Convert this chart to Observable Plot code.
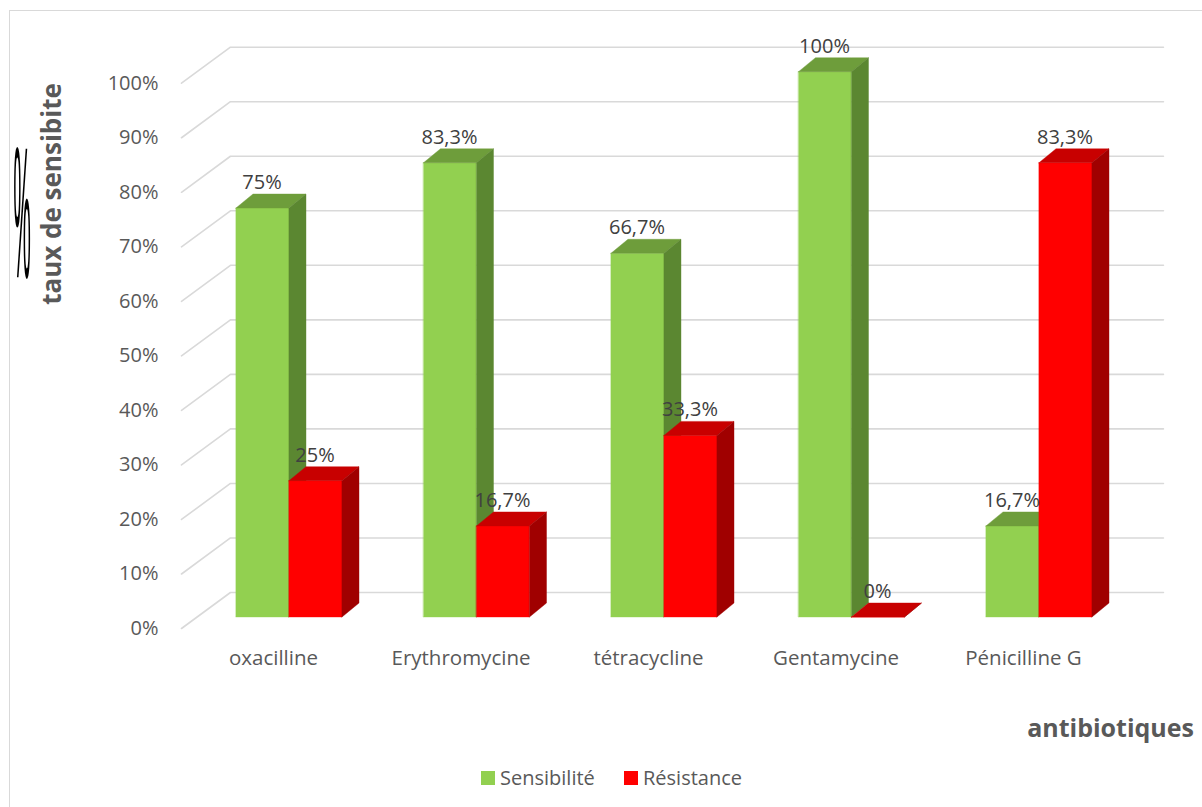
<!DOCTYPE html>
<html>
<head>
<meta charset="utf-8">
<script src="https://cdn.jsdelivr.net/npm/d3@7"></script>
<script src="https://cdn.jsdelivr.net/npm/@observablehq/plot@0.6"></script>
<style>
  html, body { margin: 0; padding: 0; background: #fff; overflow: hidden; }
  #wrap { position: relative; width: 1202px; height: 807px; overflow: hidden; font-family: "Open Sans", sans-serif; }
  #frame { position: absolute; left: 9px; top: 10px; width: 1400px; height: 1000px; border: 1.5px solid #d9d9d9; box-sizing: border-box; }
  #chart { position: absolute; left: 0; top: 0; }
  .abs { position: absolute; white-space: nowrap; color: #595959; }
  #ytitle { left: 51px; top: 194px; transform: translate(-50%, -50%) rotate(-90deg); font-weight: 700; font-size: 26px; line-height: 1; }
  #pct { left: 22px; top: 203px; transform: translate(-50%, -50%) scale(1, 8.2); font-size: 22px; line-height: 1; color: #000; font-family: "Open Sans", sans-serif; font-weight: 400; }
  #xtitle { right: 8px; top: 727px; transform: translateY(-50%); font-weight: 700; font-size: 25px; line-height: 1; }
  .leg { top: 778px; transform: translateY(-50%); font-size: 20px; line-height: 1; display: flex; align-items: center; }
  .sw { width: 14px; height: 14px; margin-right: 5px; display: inline-block; }
</style>
</head>
<body>
<div id="wrap">
  <div id="frame"></div>
  <div id="chart"></div>
  <div class="abs" id="pct">%</div>
  <div class="abs" id="ytitle">taux de sensibite</div>
  <div class="abs" id="xtitle">antibiotiques</div>
  <div class="abs leg" id="leg0" style="left:481px"></div>
  <div class="abs leg" id="leg1" style="left:624px"></div>
</div>
<script>
// ---- data ----
const antibiotics = ["oxacilline", "Erythromycine", "tétracycline", "Gentamycine", "Pénicilline G"];
const sensibilite = [75, 83.3, 66.7, 100, 16.7];
const resistance  = [25, 16.7, 33.3, 0, 83.3];
const seriesNames = ["Sensibilité", "Résistance"];
const yTicks = [0, 10, 20, 30, 40, 50, 60, 70, 80, 90, 100];

// ---- styling / projection constants ----
const frontColors = ["#92D050", "#FF0000"];
const topColors   = ["#6E9D3B", "#C80000"];
const sideColors  = ["#5B8731", "#A00000"];
const BAR_W = 0.2827;     // bar width in category units
const DX = 0.0907;        // bar depth (x units)
const DY = 2.57;          // bar depth (y units)
const WALL_FRONT_X = -0.576, WALL_BACK_X = -0.315, WALL_RIGHT_X = 4.661;
const WALL_FRONT_DY = -2.02, WALL_BACK_DY = 4.585;

const seriesValues = [sensibilite, resistance];
const fmt = v => String(v).replace(".", ",") + "%";

// bars table
const bars = [];
antibiotics.forEach((a, i) => {
  seriesValues.forEach((vals, s) => {
    const l = i + (s === 0 ? -BAR_W : 0);
    bars.push({antibiotic: a, i, s, value: vals[i], l, r: l + BAR_W});
  });
});

// faces (front, top, side) in drawing order per bar
const faces = [];
bars.forEach((b, k) => {
  const v = b.value;
  const push = (face, color, pts) => pts.forEach(p => faces.push({id: k + "-" + face, color, ...p}));
  push("front", frontColors[b.s], [
    {x: b.l, y1: 0, y2: v}, {x: b.r, y1: 0, y2: v}
  ]);
  push("top", topColors[b.s], [
    {x: b.l, y1: v, y2: v},
    {x: b.l + DX, y1: v, y2: v + DY},
    {x: b.r, y1: v, y2: v + DY},
    {x: b.r + DX, y1: v + DY, y2: v + DY}
  ]);
  push("side", sideColors[b.s], [
    {x: b.r, y1: 0, y2: v}, {x: b.r + DX, y1: DY, y2: v + DY}
  ]);
});

// gridlines (3D wall)
const grid = [];
yTicks.forEach(t => {
  grid.push({t, x: WALL_FRONT_X, y: t + WALL_FRONT_DY});
  grid.push({t, x: WALL_BACK_X, y: t + WALL_BACK_DY});
  grid.push({t, x: WALL_RIGHT_X, y: t + WALL_BACK_DY});
});

const chart = Plot.plot({
  width: 1202,
  height: 700,
  marginLeft: 195.25,
  marginRight: 69.25,
  marginTop: 71.7,
  marginBottom: 83,
  style: {fontFamily: "Open Sans, sans-serif", background: "transparent", overflow: "visible"},
  x: {domain: [-0.5, 4.5], axis: null},
  y: {domain: [0, 100], axis: null},
  color: {type: "identity"},
  marks: [
    Plot.line(grid, {x: "x", y: "y", z: "t", stroke: "#D9D9D9", strokeWidth: 1.6}),
    Plot.text(yTicks, {x: () => WALL_FRONT_X, y: t => t + WALL_FRONT_DY, text: t => t + "%",
      textAnchor: "end", dx: -23, fontSize: 20, fill: "#595959"}),
    Plot.areaY(faces, {x: "x", y1: "y1", y2: "y2", z: "id", fill: "color", stroke: "color", strokeWidth: 0.4, curve: "linear"}),
    Plot.text(bars, {x: b => (b.l + b.r) / 2, y: "value", text: b => fmt(b.value),
      dy: -26, dx: -1, fontSize: 20, fill: "#404040"}),
    Plot.text(antibiotics, {x: (a, i) => i, y: () => 0, text: a => a, dy: 41, dx: -16, fontSize: 20.5, fill: "#595959"})
  ]
});
document.getElementById("chart").appendChild(chart);

// legend
seriesNames.forEach((n, s) => {
  const el = document.getElementById("leg" + s);
  el.innerHTML = `<span class="sw" style="background:${frontColors[s]}"></span><span>${n}</span>`;
});
</script>
</body>
</html>
